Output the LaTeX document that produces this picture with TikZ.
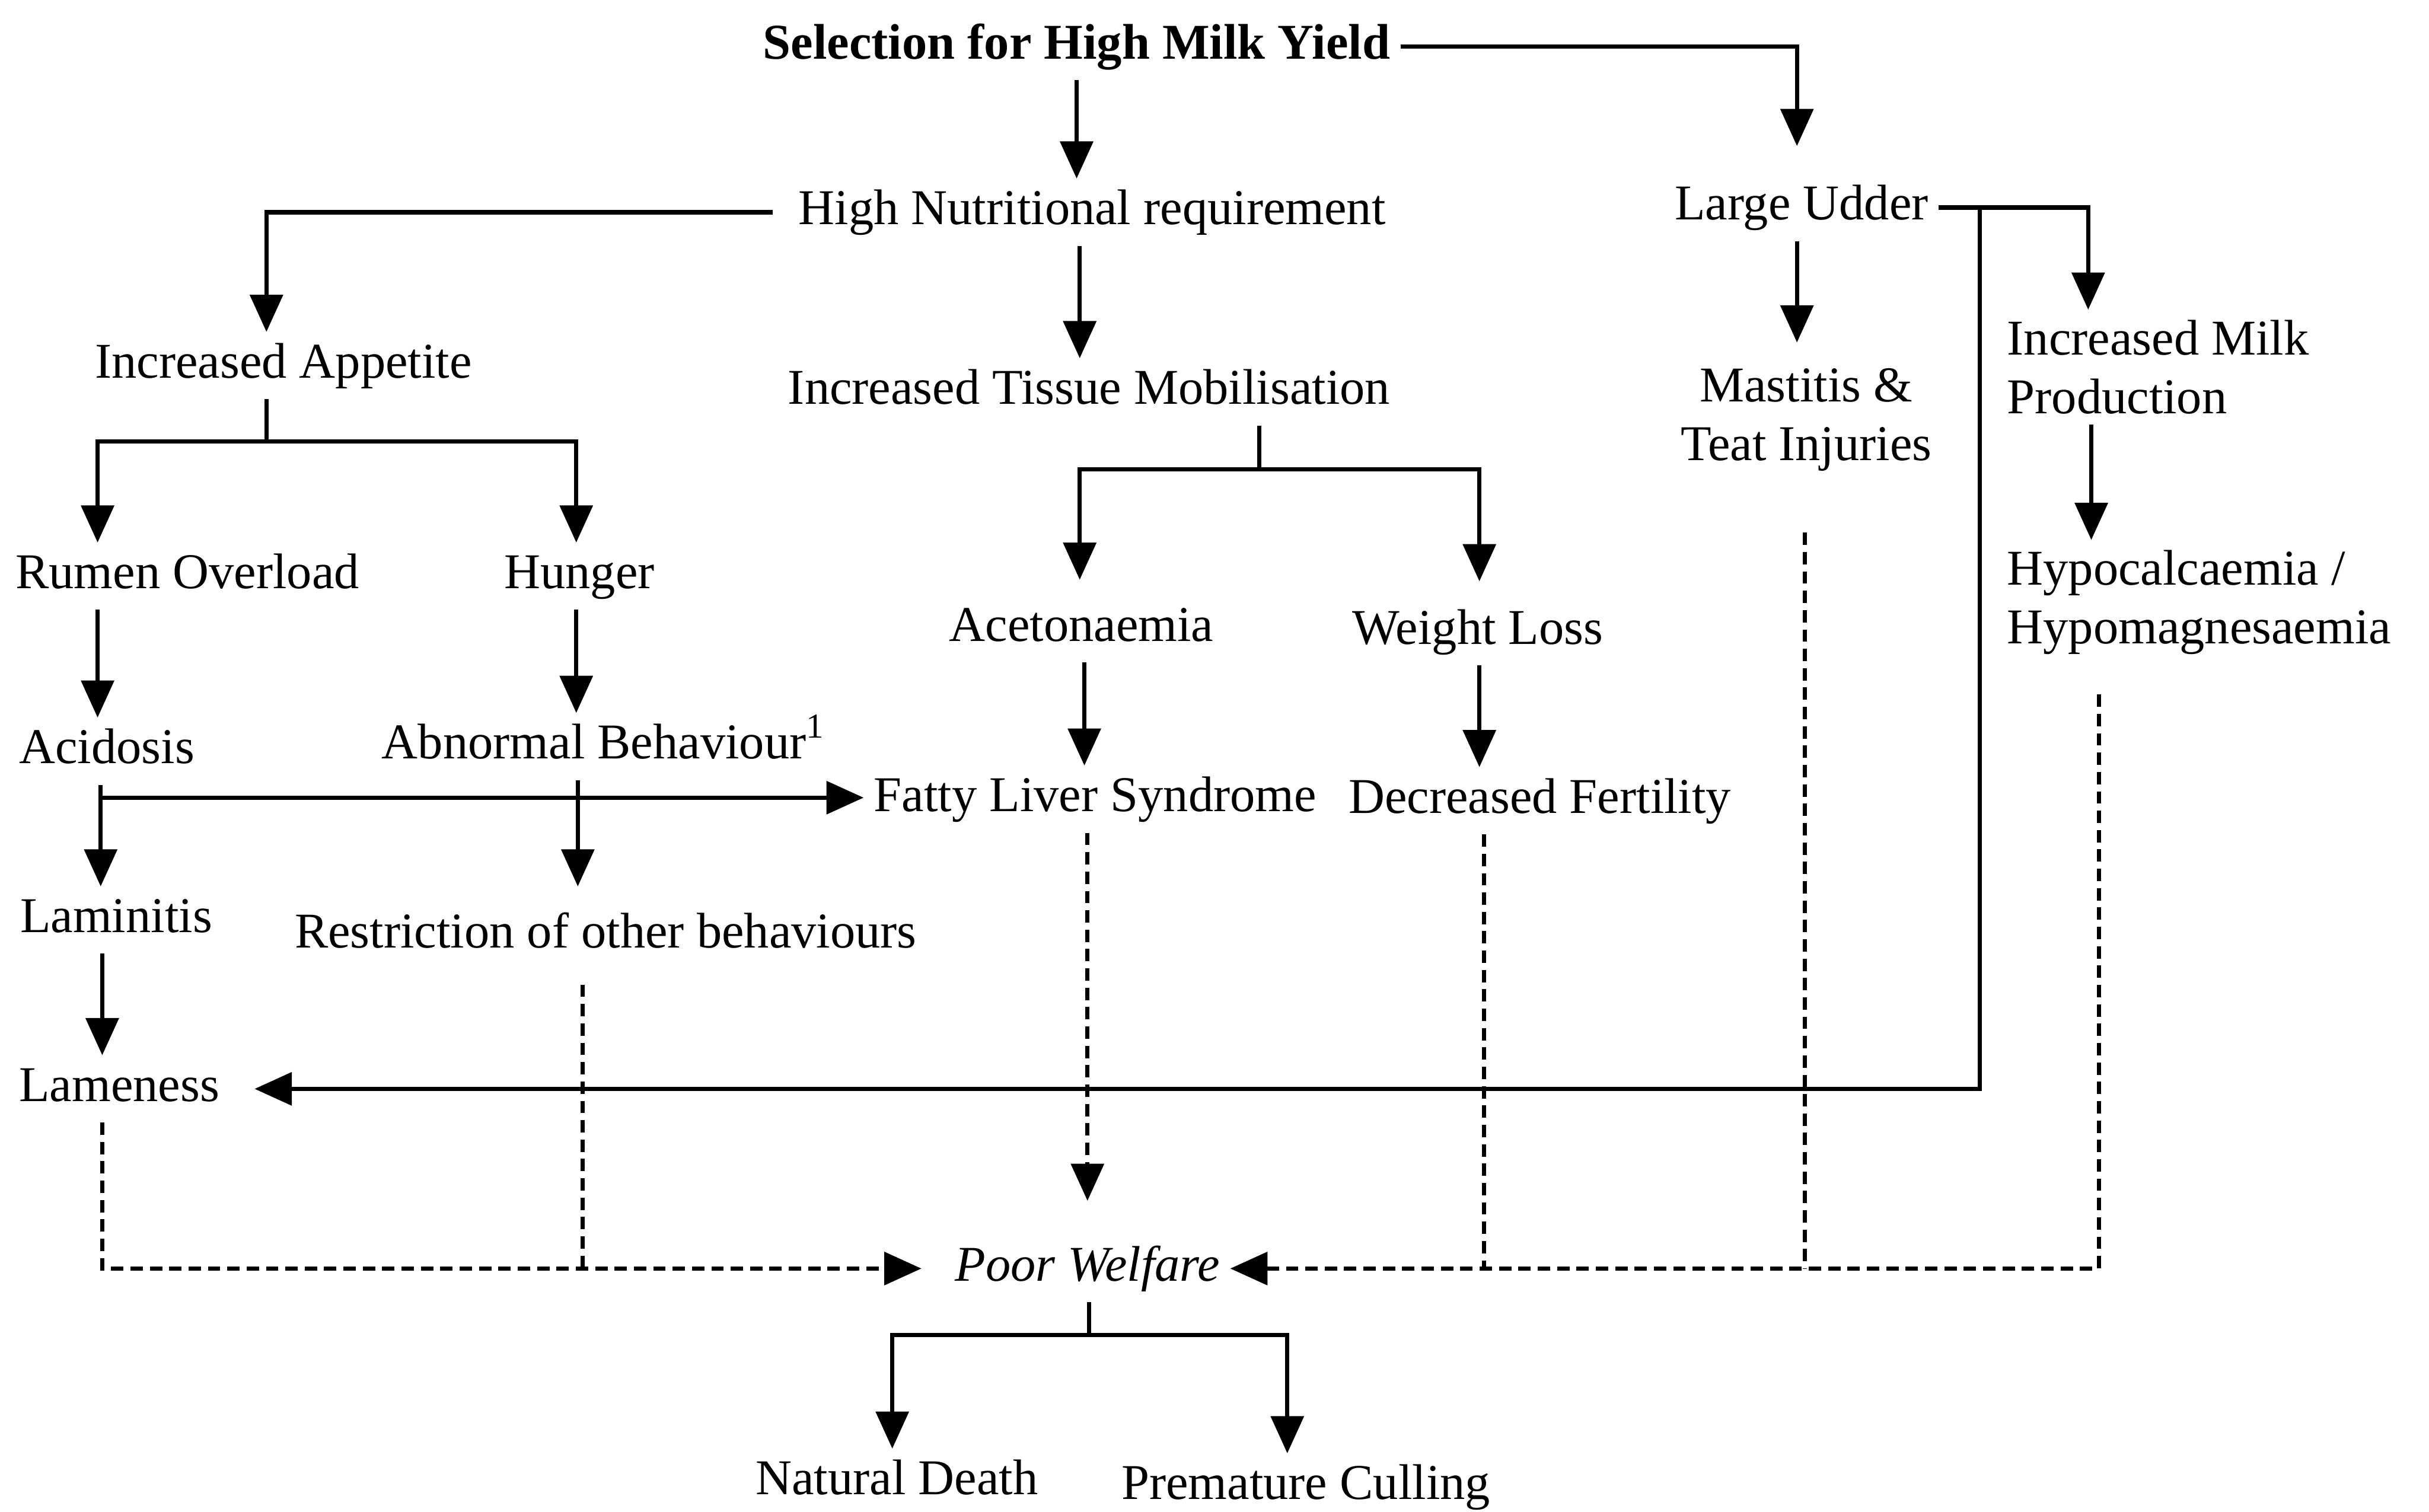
\documentclass[tikz,border=0pt]{standalone}
\usepackage{fontspec}
\setmainfont{Liberation Serif}
\usetikzlibrary{arrows.meta,positioning,calc}

\begin{document}
\fontsize{9.2}{10.8}\selectfont
\begin{tikzpicture}[
  x=0.1mm,y=-0.1mm,
  lbl/.style={inner sep=0.6mm,text height=2.3mm,text depth=0.7mm,anchor=base},
  pair/.style={inner sep=0.6mm,align=#1},
  link/.style={line width=0.8pt},
  arr/.style={-{Triangle[length=2.4mm,width=2.1mm]},line width=0.8pt},
  weak/.style={line width=0.8pt,dash pattern=on 0.8mm off 0.45mm},
  weakarr/.style={weak,-{Triangle[length=2.4mm,width=2.1mm]}}]
\useasboundingbox (0,0) rectangle (1568,976);
% causes
\node[lbl,font=\bfseries] (sel) at (695,38) {Selection for High Milk Yield};
\node[lbl] (hnr) at (705,145) {High Nutritional requirement};
\node[lbl] (udder) at (1163,142) {Large Udder};
\node[lbl] (appetite) at (183,244) {Increased Appetite};
\node[lbl] (tissue) at (703,261) {Increased Tissue Mobilisation};
\node[pair=center] (mastitis) at (1166,271) {Mastitis \&\\Teat Injuries};
\node[pair=left,anchor=west] (milk) at (1289,237) {Increased Milk\\Production};
\node[lbl] (rumen) at (121,380) {Rumen Overload};
\node[lbl] (hunger) at (374,380) {Hunger};
\node[lbl] (aceto) at (698,414) {Acetonaemia};
\node[lbl] (wloss) at (954,416) {Weight Loss};
\node[pair=left,anchor=west] (hypo) at (1289,389) {Hypocalcaemia /\\Hypomagnesaemia};
\node[lbl] (acid) at (69,493) {Acidosis};
\node[lbl] (abnormal) at (390,490) {Abnormal Behaviour\textsuperscript{1}};
\node[lbl] (fatty) at (707,524) {Fatty Liver Syndrome};
\node[lbl] (fert) at (994,525) {Decreased Fertility};
\node[lbl] (lamin) at (75,602) {Laminitis};
\node[lbl] (restr) at (391,612) {Restriction of other behaviours};
\node[lbl] (lame) at (77,711) {Lameness};
% outcome
\node[lbl,font=\itshape] (poor) at (702,827) {Poor Welfare};
\node[lbl] (death) at (579,965) {Natural Death};
\node[lbl] (cull) at (843,968) {Premature Culling};
\coordinate (appj) at (172,285);
\coordinate (tisj) at (813,303);
\coordinate (acidj) at (65,515);
\coordinate (pwj) at (703,862);
% top level
\draw[arr] (sel.south) -- (sel.south |- hnr.north);
\draw[arr,shorten >=1.8mm] (sel.east) -| (1160,0 |- udder.north);
\draw[arr] ([xshift=-1mm]hnr.west) -| (172,0 |- appetite.north);
\draw[arr] (697,0 |- hnr.south) -- (697,0 |- tissue.north);
\draw[arr,shorten >=1mm] (1160,0 |- udder.south) -- (1160,0 |- mastitis.north);
\draw[arr] (udder.east) -| (1348,0 |- milk.north);
\draw[arr,shorten >=1.6mm] (1278,0 |- udder.east) |- (lame.east);
\draw[arr] (1350,0 |- milk.south) -- (1350,0 |- hypo.north);
% appetite branch
\draw[link] (172,0 |- appetite.south) -- (appj);
\draw[arr] (appj) -| (63,0 |- rumen.north);
\draw[arr] (appj) -| (372,0 |- hunger.north);
\draw[arr] (63,0 |- rumen.south) -- (63,0 |- acid.north);
\draw[arr] (372,0 |- hunger.south) -- (372,0 |- abnormal.north);
\draw[link] (65,0 |- acid.south) -- (acidj);
\draw[arr] (acidj) -- (acidj -| fatty.west);
\draw[arr] (acidj) -- (acidj |- lamin.north);
\draw[arr,shorten >=1mm] (373,0 |- abnormal.south) -- (373,0 |- restr.north);
\draw[arr] (66,0 |- lamin.south) -- (66,0 |- lame.north);
% tissue branch
\draw[link] (813,0 |- tissue.south) -- (tisj);
\draw[arr,shorten >=1mm] (tisj) -| (697,0 |- aceto.north);
\draw[arr,shorten >=1.1mm] (tisj) -| (955,0 |- wloss.north);
\draw[arr] (700,0 |- aceto.south) -- (700,0 |- fatty.north);
\draw[arr] (955,0 |- wloss.south) -- (955,0 |- fert.north);
% into poor welfare
\draw[weakarr,shorten >=1.5mm] (66,0 |- lame.south) |- (poor.west);
\draw[weak,shorten <=1mm] (376,0 |- restr.south) -- (376,0 |- poor.west);
\draw[weakarr,shorten >=2.2mm] (702,0 |- fatty.south) -- (702,0 |- poor.north);
\draw[weak] (958,0 |- fert.south) -- (958,0 |- poor.east);
\draw[weak,shorten <=3.3mm] (1165,0 |- mastitis.south) -- (1165,0 |- poor.east);
\draw[weakarr,shorten <=1.9mm] (1355,0 |- hypo.south) |- (poor.east);
% poor welfare branch
\draw[link] (703,0 |- poor.south) -- (pwj);
\draw[arr] (pwj) -| (576,0 |- death.north);
\draw[arr] (pwj) -| (831,0 |- cull.north);
\end{tikzpicture}
\end{document}
